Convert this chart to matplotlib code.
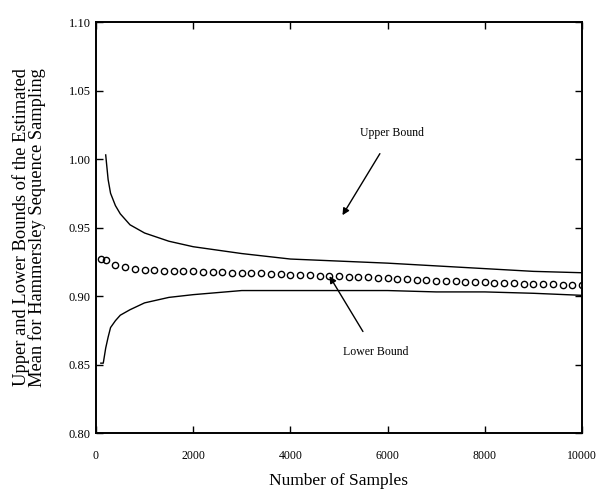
import matplotlib
matplotlib.use("Agg")
import matplotlib.pyplot as plt

# Upper bound curve
upper_n = [200, 250, 300, 400, 500, 700, 1000, 1500, 2000, 3000, 4000, 5000, 6000, 7000, 8000, 9000, 10000]
upper_v = [1.003, 0.985, 0.975, 0.966, 0.960, 0.952, 0.946, 0.940, 0.936, 0.931, 0.927, 0.9255, 0.924, 0.922, 0.920, 0.918, 0.917]

# Lower bound curve
lower_n = [100, 150, 200, 250, 300, 400, 500, 700, 1000, 1500, 2000, 3000, 4000, 5000, 6000, 7000, 8000, 9000, 10000]
lower_v = [0.851, 0.851, 0.862, 0.870, 0.877, 0.882, 0.886, 0.890, 0.895, 0.899, 0.901, 0.904, 0.904, 0.904, 0.904, 0.903, 0.903, 0.902, 0.9005]

# Estimated mean (markers)
mean_n = [100, 200, 400, 600, 800, 1000, 1200, 1400, 1600, 1800, 2000, 2200, 2400, 2600, 2800, 3000,
          3200, 3400, 3600, 3800, 4000, 4200, 4400, 4600, 4800, 5000, 5200, 5400, 5600, 5800, 6000,
          6200, 6400, 6600, 6800, 7000, 7200, 7400, 7600, 7800, 8000, 8200, 8400, 8600, 8800, 9000,
          9200, 9400, 9600, 9800, 10000]
mean_v = [0.927, 0.926, 0.923, 0.921, 0.920, 0.919, 0.9188, 0.9185, 0.918, 0.918, 0.918, 0.9178, 0.9175, 0.9172, 0.917, 0.917,
          0.9168, 0.9165, 0.916, 0.9158, 0.9155, 0.9153, 0.915, 0.9148, 0.9146, 0.9145, 0.9142, 0.914, 0.9137, 0.9134, 0.913,
          0.9127, 0.9123, 0.912, 0.9117, 0.9113, 0.911, 0.9108, 0.9105, 0.9103, 0.910, 0.9098, 0.9095, 0.9093, 0.909, 0.909,
          0.9088, 0.9085, 0.9083, 0.908, 0.908]

xticks = [0, 2000, 4000, 6000, 8000, 10000]
yticks = [0.80, 0.85, 0.90, 0.95, 1.00, 1.05, 1.10]

plt.rcParams['font.family'] = ['Liberation Serif', 'DejaVu Serif']

fig = plt.figure(figsize=(5.98, 4.90), dpi=100)
ax = fig.add_axes([0.1605, 0.1163, 0.8127, 0.8387])

ax.plot(upper_n, upper_v, color='black', lw=1.0)
ax.plot(lower_n, lower_v, color='black', lw=1.0)
ax.plot(mean_n, mean_v, linestyle='none', marker='o', ms=4.5, mfc='none', mec='black', mew=1.0)

ax.set_xlim(0, 10000)
ax.set_ylim(0.80, 1.10)
ax.set_xticks(xticks)
ax.set_xticklabels([str(t) for t in xticks])
ax.set_yticks(yticks)
ax.set_yticklabels([f"{t:.2f}" for t in yticks])
ax.tick_params(direction='in', length=5, width=1, labelsize=9, top=True, right=True)
ax.tick_params(axis='x', labelsize=8.5, pad=12)
ax.tick_params(axis='y', pad=4)
for s in ax.spines.values():
    s.set_linewidth(1.4)

ax.set_xlabel("Number of Samples", fontsize=12.5, labelpad=8)
ax.set_ylabel("Upper and Lower Bounds of the Estimated\nMean for Hammersley Sequence Sampling",
              fontsize=13.3, linespacing=0.85, labelpad=16)

ax.annotate("Upper Bound", xy=(5072, 0.959), xytext=(6100, 1.019), fontsize=8.5, ha='center', va='center',
            arrowprops=dict(arrowstyle='-|>', color='black', lw=1.0, shrinkA=10, shrinkB=0, mutation_scale=10))
ax.annotate("Lower Bound", xy=(4805, 0.9145), xytext=(5750, 0.859), fontsize=8.5, ha='center', va='center',
            arrowprops=dict(arrowstyle='-|>', color='black', lw=1.0, shrinkA=10, shrinkB=0, mutation_scale=10))

fig.savefig("out.png", dpi=100)
